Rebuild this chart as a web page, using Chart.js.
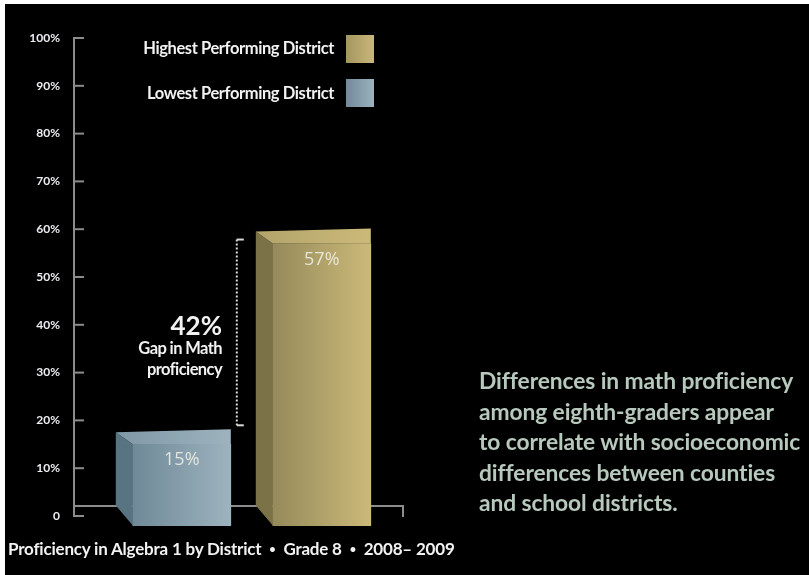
<!DOCTYPE html>
<html lang="en">
<head>
<meta charset="UTF-8">
<title>Proficiency in Algebra 1 by District</title>
<script src="https://cdn.jsdelivr.net/npm/chart.js"></script>
<style>
  body {
    margin: 0;
    width: 809px;
    height: 575px;
    overflow: hidden;
    background: #fff;
    font-family: 'Lato', sans-serif;
    font-weight: bold;
  }
  .panel {
    position: absolute;
    left: 5px;
    top: 4px;
    width: 804px;
    height: 571px;
    background: #000;
  }
  #chartWrap {
    position: absolute;
    left: 0;
    top: 0;
    width: 809px;
    height: 575px;
  }
  .txt { position: absolute; white-space: nowrap; color: #f2f2f2; }
  .legendLabel { right: 475px; font-size: 16.5px; letter-spacing: -0.4px; line-height: 18px; }
  .swatch { position: absolute; left: 346px; width: 28px; height: 28px; }
  .gapBig { right: 587px; top: 310px; font-size: 26px; line-height: 30px; }
  .gapSmall { right: 587px; top: 338px; font-size: 16.5px; line-height: 21px; text-align: right; letter-spacing: -0.6px; }
  .title { left: 8px; top: 539px; font-size: 17px; line-height: 20px; letter-spacing: -0.2px; }
  .title span { font-size: 11px; vertical-align: 2px; }
  .note { left: 479px; top: 365px; font-size: 22.8px; line-height: 30.5px; color: #b7c9bd; letter-spacing: -0.1px; }
</style>
</head>
<body>
<div class="panel"></div>
<div id="chartWrap"><canvas id="gapChart" width="809" height="575"></canvas></div>

<div class="txt legendLabel" style="top:39px">Highest Performing District</div>
<div class="swatch" style="top:35px;background:linear-gradient(to right,#a3965f,#c9b77a)"></div>
<div class="txt legendLabel" style="top:84px">Lowest Performing District</div>
<div class="swatch" style="top:79px;background:linear-gradient(to right,#71899a,#9cb2bd)"></div>

<div class="txt gapBig">42%</div>
<div class="txt gapSmall">Gap in Math<br>proficiency</div>

<div class="txt title">Proficiency in Algebra 1 by District &nbsp;<span>•</span>&nbsp; Grade 8 &nbsp;<span>•</span>&nbsp; 2008– 2009</div>

<div class="txt note">Differences in math proficiency<br>among eighth-graders appear<br>to correlate with socioeconomic<br>differences between counties<br>and school districts.</div>

<script>
// data
var districts = ['Lowest Performing District', 'Highest Performing District'];
var proficiency = [15, 57];
var yTicks = [0, 10, 20, 30, 40, 50, 60, 70, 80, 90, 100];

// box colours: [side, top, front-left, front-right]
var boxColors = [
    ['#587382', '#7f98a6', '#6f8998', '#9db3be'],
    ['#7b7248', '#b2a46b', '#958a5b', '#cbb978']
];
var DEPTH_X = 17, DEPTH_Y = 12, BAR_W = 98;

function frontFill(ctx) {
    var chart = ctx.chart;
    var c = boxColors[ctx.dataIndex];
    if (!chart.chartArea || !chart.scales.x || !ctx.parsed) return c[3];
    var cx = chart.scales.x.getPixelForValue(ctx.parsed.x);
    var g = chart.ctx.createLinearGradient(cx - BAR_W / 2, 0, cx + BAR_W / 2, 0);
    g.addColorStop(0, c[2]);
    g.addColorStop(1, c[3]);
    return g;
}

// axis ticks pointing right, baseline, 3d faces, value labels, gap bracket
var boxPlugin = {
    id: 'box3d',
    beforeDatasetsDraw: function(chart) {
        var ctx = chart.ctx;
        var ys = chart.scales.y;
        var left = chart.chartArea.left, right = chart.chartArea.right;
        ctx.save();
        ctx.strokeStyle = '#8c8c8c';
        ctx.lineWidth = 2;
        yTicks.forEach(function(t) {
            var py = ys.getPixelForValue(t);
            ctx.beginPath();
            ctx.moveTo(left, py);
            ctx.lineTo(left + 10, py);
            ctx.stroke();
        });
        var by = ys.getPixelForValue(0) - 10;
        ctx.beginPath();
        ctx.moveTo(left, by);
        ctx.lineTo(right, by);
        ctx.lineTo(right, by + 11);
        ctx.stroke();

        chart.getDatasetMeta(0).data.forEach(function(el, i) {
            var c = boxColors[i];
            var x0 = el.x - el.width / 2, x1 = el.x + el.width / 2;
            var yt = el.y, yb = el.base;
            // side face
            ctx.fillStyle = c[0];
            ctx.beginPath();
            ctx.moveTo(x0, yt);
            ctx.lineTo(x0 - DEPTH_X, yt - DEPTH_Y);
            ctx.lineTo(x0 - DEPTH_X, yb - DEPTH_Y - 8);
            ctx.lineTo(x0, yb);
            ctx.closePath();
            ctx.fill();
            // top face
            var g = ctx.createLinearGradient(x0 - DEPTH_X, 0, x1, 0);
            g.addColorStop(0, c[1]);
            g.addColorStop(1, c[3]);
            ctx.fillStyle = g;
            ctx.beginPath();
            ctx.moveTo(x0, yt);
            ctx.lineTo(x0 - DEPTH_X, yt - DEPTH_Y);
            ctx.lineTo(x1, yt - DEPTH_Y - 3);
            ctx.lineTo(x1, yt);
            ctx.closePath();
            ctx.fill();
        });
        ctx.restore();
    },
    afterDatasetsDraw: function(chart) {
        var ctx = chart.ctx;
        var bars = chart.getDatasetMeta(0).data;
        ctx.save();
        ctx.fillStyle = 'rgba(238,238,228,0.88)';
        ctx.font = '18px "Open Sans"';
        ctx.textAlign = 'center';
        ctx.textBaseline = 'middle';
        bars.forEach(function(el, i) {
            ctx.fillText(proficiency[i] + '%', el.x, el.y + 16);
        });
        // dotted gap bracket
        var lo = bars[0], hi = bars[1];
        var gx = lo.x + lo.width / 2 + 6;
        var yTop = hi.y - 4, yBot = lo.y - DEPTH_Y - 7;
        ctx.strokeStyle = '#d8d8d8';
        ctx.fillStyle = '#d8d8d8';
        ctx.lineWidth = 2;
        ctx.setLineDash([2, 2]);
        ctx.beginPath();
        ctx.moveTo(gx, yTop);
        ctx.lineTo(gx, yBot);
        ctx.stroke();
        ctx.setLineDash([]);
        ctx.fillRect(gx, yTop - 1, 7, 2);
        ctx.fillRect(gx, yBot - 1, 7, 2);
        ctx.restore();
    }
};

new Chart(document.getElementById('gapChart'), {
    type: 'bar',
    data: {
        labels: districts,
        datasets: [{
            label: 'Proficiency',
            data: proficiency.map(function(v, i) { return { x: i + 1, y: v }; }),
            backgroundColor: frontFill,
            borderWidth: 0,
            barThickness: BAR_W,
            base: -2,
            clip: false
        }]
    },
    plugins: [boxPlugin],
    options: {
        responsive: false,
        animation: false,
        layout: { padding: { left: 0, top: 38, right: 406, bottom: 59 } },
        plugins: { legend: { display: false }, tooltip: { enabled: false } },
        scales: {
            x: { type: 'linear', min: 0.23, max: 2.58, offset: false, display: false },
            y: {
                min: 0,
                max: 100,
                afterFit: function(scale) { scale.width = 74; },
                afterBuildTicks: function(scale) {
                    scale.ticks = yTicks.map(function(v) { return { value: v }; });
                },
                grid: { display: false },
                border: { display: true, color: '#8c8c8c', width: 2 },
                ticks: {
                    padding: 6,
                    color: '#ececf2',
                    font: { family: 'Lato', size: 12, weight: 'bold' },
                    callback: function(v) { return v === 0 ? '0' : v + '%'; }
                }
            }
        }
    }
});
</script>
</body>
</html>
